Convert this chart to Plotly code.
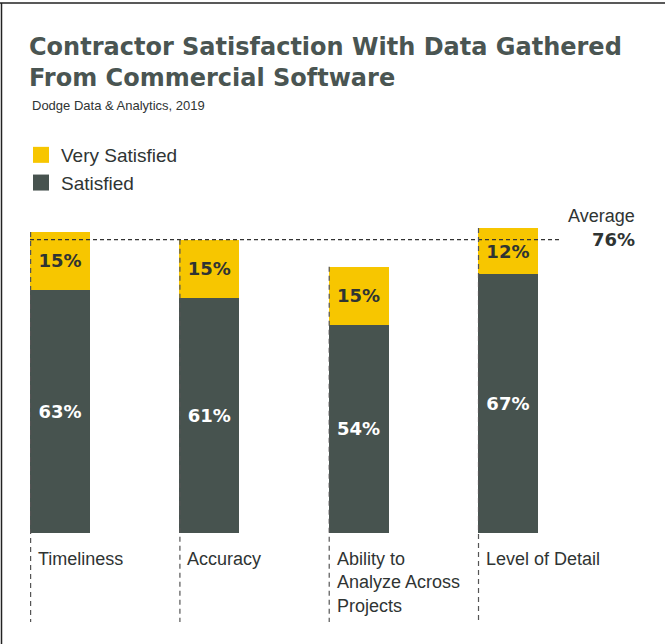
import plotly.graph_objects as go

categories = ["Timeliness", "Accuracy", "Ability to<br>Analyze Across<br>Projects", "Level of Detail"]
satisfied = [63, 61, 54, 67]
very_satisfied = [15, 15, 15, 12]
average = 76

title_text = "Contractor Satisfaction With Data Gathered<br>From Commercial Software"
subtitle_text = "Dodge Data & Analytics, 2019"

YELLOW = "#f7c600"
DARK = "#47534f"
TEXT = "#2f3433"
TITLE_C = "#4a5552"
NARROW = "Liberation Sans Narrow, Arial Narrow, Liberation Sans, sans-serif"
BOLDF = "DejaVu Sans, Arial, sans-serif"

W, H = 668, 644
BAR_W = 0.402
x_idx = list(range(len(categories)))

fig = go.Figure()
fig.add_trace(go.Bar(
    x=x_idx, y=satisfied, name="Satisfied", marker=dict(color=DARK, line=dict(width=0)),
    width=BAR_W, texttemplate="%{y}%", textposition="inside", insidetextanchor="middle",
    textfont=dict(family=BOLDF, size=18, color="white", weight="bold"), showlegend=False,
))
fig.add_trace(go.Bar(
    x=x_idx, y=very_satisfied, name="Very Satisfied", marker=dict(color=YELLOW, line=dict(width=0)),
    width=BAR_W, texttemplate="%{y}%", textposition="inside", insidetextanchor="middle",
    textfont=dict(family=BOLDF, size=18, color=TEXT, weight="bold"), showlegend=False,
))
# legend entries (square swatches)
for name, col in [("Very Satisfied", YELLOW), ("Satisfied", DARK)]:
    fig.add_trace(go.Scatter(x=[None], y=[None], mode="markers", name=name,
                             marker=dict(symbol="square", size=18, color=col, line=dict(width=0))))

# y scale: bottom of bars at pixel 533, 3.86 px per percent
px_per = 3.86
base_px = 533
y_lo = -(H - base_px) / px_per
y_hi = base_px / px_per
x_lo = -0.402
x_hi = x_lo + W / 149.3

shapes = []
shapes.append(dict(type="line", xref="x", yref="y", x0=-BAR_W / 2, x1=x_lo + 562 / 149.3,
                   y0=average, y1=average, line=dict(color="#333", width=1.3, dash="4px,3px"), layer="above"))
for i, (s, v) in enumerate(zip(satisfied, very_satisfied)):
    shapes.append(dict(type="line", xref="x", yref="y", x0=i - BAR_W / 2 + 0.004, x1=i - BAR_W / 2 + 0.004,
                       y0=s + v, y1=(base_px - 622) / px_per,
                       line=dict(color="#555", width=1.2, dash="5px,4px"), layer="above"))
shapes.append(dict(type="line", xref="paper", yref="paper", x0=0, x1=665 / W, y0=1 - 3 / H, y1=1 - 3 / H,
                   line=dict(color="#222", width=1.5)))
shapes.append(dict(type="line", xref="paper", yref="paper", x0=1.5 / W, x1=1.5 / W, y0=0, y1=1 - 3 / H,
                   line=dict(color="#222", width=1.5)))

annotations = []
for i, c in enumerate(categories):
    annotations.append(dict(x=i, y=0, xref="x", yref="y", text=c, showarrow=False, xanchor="left",
                            yanchor="top", align="left", xshift=-24, yshift=-14,
                            font=dict(family=NARROW, size=18, color=TEXT)))
annotations.append(dict(x=637 / W, y=average, xref="paper", yref="y", text="Average", showarrow=False,
                        xanchor="right", yanchor="middle", yshift=24,
                        font=dict(family=NARROW, size=18, color=TEXT)))
annotations.append(dict(x=637 / W, y=average, xref="paper", yref="y", text=f"{average}%", showarrow=False,
                        xanchor="right", yanchor="middle", yshift=0,
                        font=dict(family=BOLDF, size=18, color=TEXT, weight="bold")))
annotations.append(dict(x=30 / W, y=1 - 105 / H, xref="paper", yref="paper", text=subtitle_text,
                        showarrow=False, xanchor="left", yanchor="middle",
                        font=dict(family=NARROW, size=13, color=TEXT)))

fig.update_layout(
    width=W, height=H,
    margin=dict(l=0, r=0, t=0, b=0),
    paper_bgcolor="white", plot_bgcolor="white",
    barmode="stack",
    title=dict(text=title_text, x=29 / W, xanchor="left", xref="paper", y=1 - 55 / H, yanchor="top",
               yref="container", font=dict(family=BOLDF, size=24, color=TITLE_C, weight="bold")),
    xaxis=dict(range=[x_lo, x_hi], visible=False, fixedrange=True),
    yaxis=dict(range=[y_lo, y_hi], visible=False, fixedrange=True),
    showlegend=True,
    legend=dict(x=21 / W, y=1 - 136 / H, xanchor="left", yanchor="top", itemsizing="trace",
                traceorder="normal",
                font=dict(family=NARROW, size=19, color=TEXT), bgcolor="rgba(0,0,0,0)",
                itemclick=False, itemdoubleclick=False),
    shapes=shapes,
    annotations=annotations,
)

fig.write_html("out.html", config={"displayModeBar": False},
               post_script="document.body.style.margin='0';document.body.style.padding='0';")
